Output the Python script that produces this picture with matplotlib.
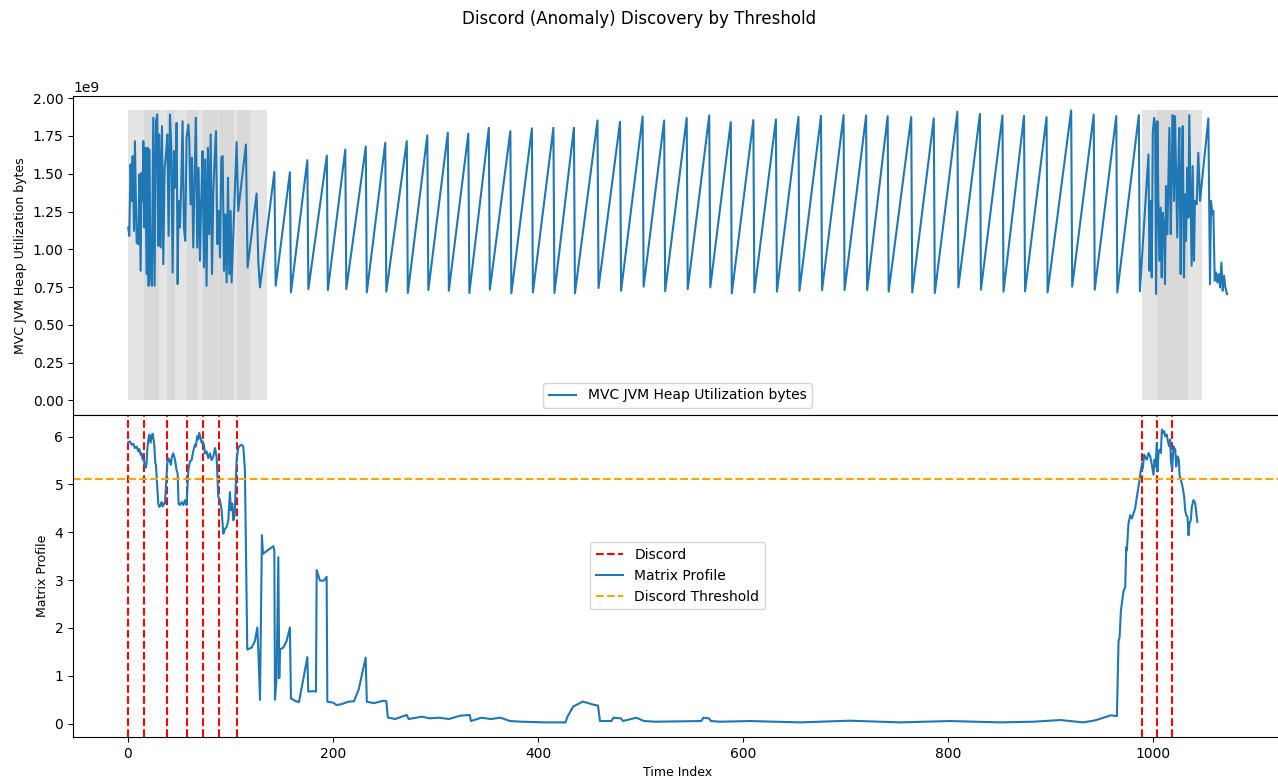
import numpy as np
import matplotlib.pyplot as plt

# heap utilisation, in 1e9 bytes; vertices
start_idx = [0.3, 1.3, 2.6, 3.6, 4.6, 5.9, 6.8, 7.8, 8.5, 10.1, 11.1, 12.4, 13.3, 14.3, 15.0, 15.9,
             16.9, 18.2, 19.2, 20.2, 20.8, 22.1, 23.4, 24.7, 26.0, 27.3, 28.6, 29.6, 30.6, 31.9,
             33.2, 34.5, 35.8, 37.1, 38.4, 39.7, 41.0, 42.3, 43.6, 44.9, 46.2, 47.5, 48.5, 49.4,
             50.7, 52.0, 53.3, 54.6, 55.9, 57.2, 58.9, 59.8, 61.1, 62.4, 63.7, 65.0, 66.3, 67.6,
             68.9, 70.2, 71.5, 72.8, 74.1, 75.4, 76.7, 78.0, 79.3, 80.7, 82.0, 83.3, 84.6, 85.9,
             87.2, 88.5, 89.8, 91.1, 92.4, 93.7, 95.0, 96.3, 97.6, 98.9, 100.2, 101.1,
             106.0, 107.6, 115.1, 116.7, 125.5, 127.2, 128.8, 142.8, 144.1]
start_val = [1.144, 1.089, 1.562, 1.320, 1.617, 1.122, 1.716, 1.342, 1.045, 1.034, 1.496, 0.858,
             1.507, 1.320, 1.716, 1.144, 1.672, 0.836, 1.672, 0.759, 1.661, 0.836, 0.759, 1.870,
             0.759, 1.848, 1.892, 1.023, 1.760, 1.012, 1.815, 0.902, 1.540, 1.628, 1.760, 1.089,
             1.892, 1.672, 0.847, 1.650, 1.408, 1.837, 0.770, 1.320, 1.144, 1.430, 1.848, 1.144,
             1.056, 1.738, 1.826, 1.738, 1.298, 1.606, 1.012, 1.474, 1.870, 1.012, 1.540, 0.924,
             1.320, 1.650, 0.880, 1.595, 0.759, 1.672, 1.100, 1.760, 0.836, 1.386, 1.606, 1.782,
             1.034, 1.254, 0.946, 1.606, 1.617, 0.858, 1.232, 0.781, 1.474, 0.836, 1.254, 0.781,
             1.710, 1.254, 1.694, 0.880, 1.369, 0.913, 0.748, 1.512, 0.759]

saw_peak_idx = [158, 175, 194, 212, 232, 251, 272, 292, 312, 332, 352, 373, 394, 415, 435, 458,
                480, 502, 523, 545, 567, 588, 610, 632, 654, 676, 698, 720, 741, 764, 786, 809,
                831, 853, 874, 896, 920, 942, 964, 986]
saw_peak_val = [1.51, 1.59, 1.62, 1.66, 1.68, 1.705, 1.716, 1.754, 1.771, 1.765, 1.804, 1.782,
                1.80, 1.804, 1.804, 1.853, 1.844, 1.879, 1.853, 1.87, 1.886, 1.842, 1.855, 1.859,
                1.877, 1.883, 1.888, 1.886, 1.881, 1.875, 1.866, 1.910, 1.896, 1.886, 1.883,
                1.875, 1.919, 1.892, 1.881, 1.888]
saw_trough_val = [0.715, 0.737, 0.730, 0.737, 0.715, 0.720, 0.711, 0.730, 0.726, 0.711, 0.733,
                  0.709, 0.715, 0.711, 0.709, 0.744, 0.726, 0.753, 0.722, 0.737, 0.748, 0.709,
                  0.715, 0.720, 0.726, 0.730, 0.730, 0.730, 0.720, 0.715, 0.711, 0.748, 0.733,
                  0.720, 0.722, 0.715, 0.753, 0.733, 0.715, 0.722]

end_idx = [995.4, 996.4, 997.7, 998.6, 999.6, 1000.9, 1001.9, 1002.8, 1004.1, 1005.1, 1006.0,
           1007.3, 1008.3, 1009.3, 1010.6, 1011.5, 1012.5, 1013.8, 1015.8, 1017.1, 1018.0,
           1019.0, 1020.3, 1021.3, 1022.2, 1023.5, 1024.5, 1025.5, 1026.8, 1027.8, 1028.8,
           1030.0, 1031.0, 1032.0, 1033.3, 1034.3, 1035.2, 1036.5, 1037.5, 1038.5, 1039.8,
           1040.7, 1042.4, 1044.0, 1045.7, 1047.3, 1053.8, 1055.4, 1056.4, 1057.7, 1058.7,
           1060.0, 1061.3, 1062.6, 1063.9, 1065.2, 1066.5, 1067.8, 1069.1, 1070.4, 1072.0]
end_val = [1.628, 0.858, 1.320, 0.814, 1.771, 1.870, 1.815, 0.704, 1.848, 1.298, 0.924, 1.276,
           0.814, 1.243, 1.144, 0.770, 1.419, 1.100, 1.804, 1.100, 1.507, 1.888, 1.320, 1.881,
           1.540, 1.078, 1.551, 1.804, 0.836, 1.540, 1.815, 0.814, 1.364, 1.056, 1.540, 1.210,
           1.888, 1.320, 0.891, 1.551, 0.924, 1.320, 1.298, 1.639, 1.320, 1.430, 1.866, 0.770,
           1.320, 1.232, 1.254, 0.792, 0.847, 0.781, 0.836, 0.748, 0.913, 0.726, 0.825, 0.748,
           0.704]

# matrix profile vertices
mp_idx = [0.3, 1.9, 3.5, 5.2, 6.8, 8.5, 10.1, 11.1, 12.4, 13.3, 14.3, 15.6, 16.6, 17.6, 18.2,
          18.9, 19.9, 20.8, 22.1, 23.1, 24.1, 24.7, 25.7, 26.7, 27.3, 28.6, 29.6, 30.6, 31.9,
          32.8, 33.8, 35.1, 36.1, 37.1, 38.4, 39.3, 40.3, 41.0, 41.9, 42.9, 44.2, 45.2, 46.2,
          47.4, 48.5, 49.4, 50.7, 52.4, 54.0, 55.6, 57.2, 58.9, 60.5, 62.1, 63.7, 65.4, 66.3,
          67.6, 68.6, 69.6, 70.9, 71.9, 72.8, 74.1, 75.1, 76.7, 78.4, 80.0, 81.6, 83.3, 84.9,
          86.5, 88.1, 89.8, 91.4, 93.0, 94.6, 96.3, 97.9, 99.5, 100.5, 101.8, 102.8, 104.1,
          106.0, 107.6, 109.3, 110.9, 112.5, 114.1,
          116.4, 120.7, 123.9, 126.2, 127.2, 128.8, 130.7, 131.7, 141.8, 142.8, 143.4, 145.0,
          146.7, 147.6, 148.3, 151.5, 154.8, 158.0, 159.0, 162.9, 166.8, 169.4, 175.0, 175.9,
          180.8, 183.4, 184.1, 187.3, 191.2, 193.8, 194.5, 200.3, 203.5, 208.4, 215.0, 220.5,
          225.0, 231.9, 233.0, 240.0, 249.2, 252.0, 253.5,
          260.7, 271.9, 273.8, 286.8, 294.3, 303.6, 313.0, 324.1, 333.4, 334.6, 344.7, 354.0,
          363.3, 372.7, 383.9, 406.3, 426.8, 428.7, 434.3, 443.6, 454.8, 458.5, 460.4, 471.6,
          473.5, 481.0, 482.8, 495.9, 503.3, 514.5, 559.3, 561.2, 566.8, 568.7, 577.6, 606.8,
          655.6, 704.4, 753.2, 802.0, 850.7, 883.3, 909.3, 932.0, 943.4, 954.8, 958.7, 964.6,
          966.2, 967.2, 968.5, 971.1, 972.7, 973.7, 974.3, 975.9, 977.6, 979.2, 980.8, 982.4,
          984.1, 986.7, 988.0, 989.3, 989.9, 991.2, 992.8, 993.8, 995.4, 997.1, 998.7, 1000.3,
          1001.3, 1002.3, 1003.6, 1004.2, 1005.2, 1006.2, 1007.5, 1008.5, 1009.4, 1010.7,
          1011.7, 1013.3, 1014.3, 1015.6, 1016.6, 1017.2, 1018.5, 1019.8, 1021.5, 1022.4,
          1023.7, 1025.0, 1025.7, 1027.0, 1028.6, 1030.2, 1031.2, 1032.2, 1033.5, 1034.5,
          1035.4, 1036.7, 1037.7, 1039.3, 1041.0, 1043.0]
mp_val = [5.88, 5.90, 5.83, 5.85, 5.76, 5.79, 5.69, 5.74, 5.62, 5.65, 5.53, 5.50, 5.38, 5.35,
          5.45, 5.73, 5.94, 6.04, 5.87, 6.01, 6.06, 5.97, 5.83, 5.45, 5.41, 4.95, 4.60, 4.53,
          4.57, 4.63, 4.54, 4.60, 4.60, 4.95, 5.44, 5.55, 5.48, 5.51, 5.41, 5.58, 5.65, 5.58,
          5.48, 5.30, 5.23, 4.60, 4.57, 4.63, 4.57, 4.67, 4.57, 5.30, 5.48, 5.51, 5.69, 5.83,
          5.79, 6.01, 5.94, 6.08, 5.97, 5.87, 5.90, 5.83, 5.65, 5.69, 5.55, 5.65, 5.51, 5.58,
          5.76, 5.58, 4.74, 4.67, 4.46, 3.97, 4.07, 4.11, 4.25, 4.84, 4.46, 4.60, 4.25, 4.35,
          5.51, 5.76, 5.81, 5.83, 5.79, 5.30,
          1.55, 1.59, 1.73, 2.01, 1.52, 0.50, 3.94, 3.55, 3.71, 3.62, 0.50, 0.95, 3.48, 0.95,
          1.55, 1.59, 1.73, 2.01, 0.53, 0.48, 0.45, 0.74, 1.39, 0.67, 0.68, 0.67, 3.21, 2.99,
          2.99, 3.07, 0.46, 0.44, 0.39, 0.41, 0.46, 0.47, 0.71, 1.38, 0.46, 0.43, 0.48, 0.47,
          0.13,
          0.098, 0.183, 0.098, 0.147, 0.112, 0.126, 0.098, 0.168, 0.183, 0.056, 0.126, 0.098,
          0.126, 0.056, 0.042, 0.028, 0.028, 0.147, 0.358, 0.463, 0.393, 0.379, 0.056, 0.056,
          0.126, 0.112, 0.056, 0.126, 0.056, 0.042, 0.056, 0.126, 0.112, 0.056, 0.042, 0.056,
          0.028, 0.063, 0.028, 0.056, 0.028, 0.042, 0.077, 0.028, 0.07, 0.147, 0.175, 0.16,
          1.726, 1.796, 2.358, 2.779, 2.849, 3.691, 3.621, 4.182, 4.358, 4.288, 4.393, 4.498,
          4.744, 5.095, 5.305, 5.446, 5.340, 5.621, 5.551, 5.516, 5.656, 5.586, 5.411, 5.200,
          5.516, 5.375, 5.867, 5.270, 5.656, 5.726, 5.656, 6.147, 6.077, 6.112, 6.007, 6.042,
          5.902, 5.796, 5.937, 5.516, 5.305, 5.796, 5.726, 5.375, 5.586, 5.516, 5.200, 5.095,
          4.954, 4.744, 4.463, 4.358, 4.323, 3.937, 4.182, 4.253, 4.533, 4.674, 4.604, 4.218]

discords = [0, 16, 38, 58, 73, 89, 106, 989, 1004, 1018]
window = 30
threshold = 5.12

# assemble heap vertex list
saw_x, saw_y = [], []
for p, pv, tv in zip(saw_peak_idx, saw_peak_val, saw_trough_val):
    saw_x += [p, p + 1]
    saw_y += [pv, tv]
heap_x = np.array(start_idx + saw_x + end_idx)
heap_y = np.array(start_val + saw_y + end_val) * 1e9

fig = plt.figure(figsize=(12.78, 7.8), dpi=100)
ax0 = fig.add_axes([0.0571, 0.468, 0.946, 0.409])
ax1 = fig.add_axes([0.0571, 0.0551, 0.946, 0.413], sharex=ax0)
fig.suptitle('Discord (Anomaly) Discovery by Threshold', y=0.987)

ax0.plot(heap_x, heap_y, label='MVC JVM Heap Utilization bytes')
top = heap_y.max()
for d in discords:
    ax0.fill_between([d, d + window], 0, top, color='lightgray', alpha=0.6, linewidth=0)
ax0.set_ylabel('MVC JVM Heap Utilization bytes', fontsize=9)
ax0.legend(loc='lower center')
ax0.tick_params(labelbottom=False)

for i, d in enumerate(discords):
    ax1.axvline(d, color='red', linestyle='--', label='Discord' if i == 0 else None)
ax1.plot(mp_idx, mp_val, label='Matrix Profile')
ax1.axhline(threshold, color='orange', linestyle='--', label='Discord Threshold')
ax1.set_ylabel('Matrix Profile', fontsize=9)
ax1.set_xlabel('Time Index', fontsize=9)
ax1.legend(loc='center')

fig.savefig('out.png')
